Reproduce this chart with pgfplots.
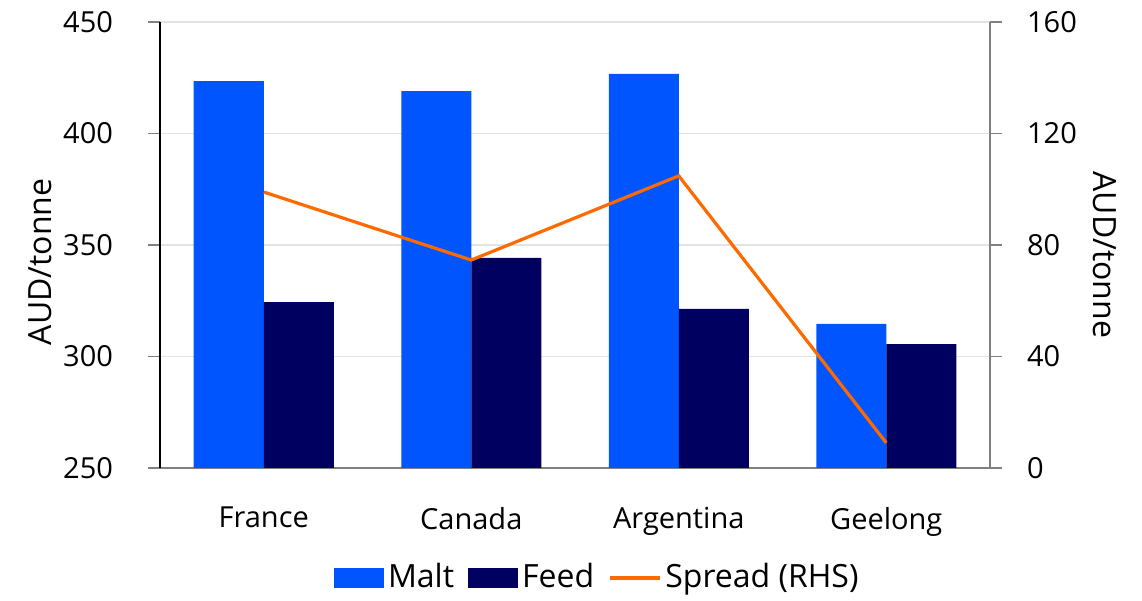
\documentclass[border=0pt]{standalone}
\usepackage{fontspec}
\setmainfont{Open Sans}
\usepackage{pgfplots}
\pgfplotsset{compat=1.18}
\definecolor{malt}{HTML}{0055FF}
\definecolor{feed}{HTML}{000060}
\definecolor{spread}{HTML}{FF6A00}
\definecolor{axgray}{HTML}{808080}
\definecolor{gridgray}{HTML}{E3E3E3}
\begin{document}
\fontsize{14.5}{17}\selectfont
\begin{tikzpicture}
\begin{axis}[
  name=left,
  scale only axis, width=415pt, height=223pt,
  xmin=-0.5, xmax=3.5, ymin=250, ymax=450,
  ybar=0pt, bar width=35pt,
  xtick={0,1,2,3}, xticklabels={France,Canada,Argentina,Geelong},
  major x tick style={draw=none},
  extra x ticks={-0.5,0.5,1.5,2.5,3.5}, extra x tick labels={},
  extra x tick style={major tick length=6pt, tick style={draw=axgray, line width=0.6pt}, tick align=outside, grid=none},
  xticklabel style={yshift=-8.5pt},
  ytick={250,300,350,400,450},
  tick align=outside, major tick length=6pt,
  ytick style={draw=axgray, line width=0.6pt},
  ymajorgrids, xmajorgrids=false, grid style={draw=gridgray, line width=0.6pt},
  axis x line*=bottom, axis y line*=left,
  x axis line style={draw=axgray, line width=0.6pt, -},
  y axis line style={draw=black, line width=0.6pt, -},
  ylabel={AUD/tonne}, ylabel style={at={(axis description cs:-0.1446,0.462)}, anchor=center, font=\fontsize{16}{19}\selectfont},
  yticklabel style={xshift=-12.5pt},
  /pgf/number format/assume math mode=true,
  clip=false,
]
\addplot[fill=malt, draw=none] coordinates {(0,423.5) (1,419) (2,426.7) (3,314.6)};
\addplot[fill=feed, draw=none] coordinates {(0,324.4) (1,344.2) (2,321.3) (3,305.6)};
\end{axis}
\begin{axis}[
  scale only axis, width=415pt, height=223pt,
  xmin=-0.5, xmax=3.5, ymin=0, ymax=160,
  axis y line*=right, axis x line=none,
  ytick={0,40,80,120,160},
  tick align=outside, major tick length=6pt,
  ytick style={draw=axgray, line width=0.6pt},
  y axis line style={draw=axgray, line width=0.6pt, -},
  ylabel={AUD/tonne}, ylabel style={at={(axis description cs:1.1386,0.478)}, anchor=center, rotate=180, font=\fontsize{16}{19}\selectfont},
  yticklabel style={xshift=7.5pt},
  /pgf/number format/assume math mode=true,
  legend columns=3,
  legend style={at={(axis description cs:0.528,0)}, anchor=center, yshift=-55pt, draw=none, fill=none,
    font=\fontsize{16}{19}\selectfont,
    /tikz/every even column/.append style={column sep=5pt}},
  legend cell align=left,
]
\addlegendimage{area legend, fill=malt, draw=none, legend image code/.code={\fill[malt] (0pt,-5pt) rectangle (25pt,5pt);}}
\addlegendentry{Malt}
\addlegendimage{area legend, fill=feed, draw=none, legend image code/.code={\fill[feed] (0pt,-5pt) rectangle (25pt,5pt);}}
\addlegendentry{Feed}
\addplot[spread, line width=1.6pt, legend image code/.code={\draw[spread, line width=1.6pt] (0pt,0pt) -- (25pt,0pt);}] coordinates {(0,99) (1,74.6) (2,104.8) (3,9)};
\addlegendentry{Spread (RHS)}
\end{axis}
\path (left.south west) ++(-80pt,-64pt) coordinate (bl);
\path (left.north east) ++(76pt,11pt) coordinate (tr);
\useasboundingbox (bl) rectangle (tr);
\end{tikzpicture}
\end{document}
